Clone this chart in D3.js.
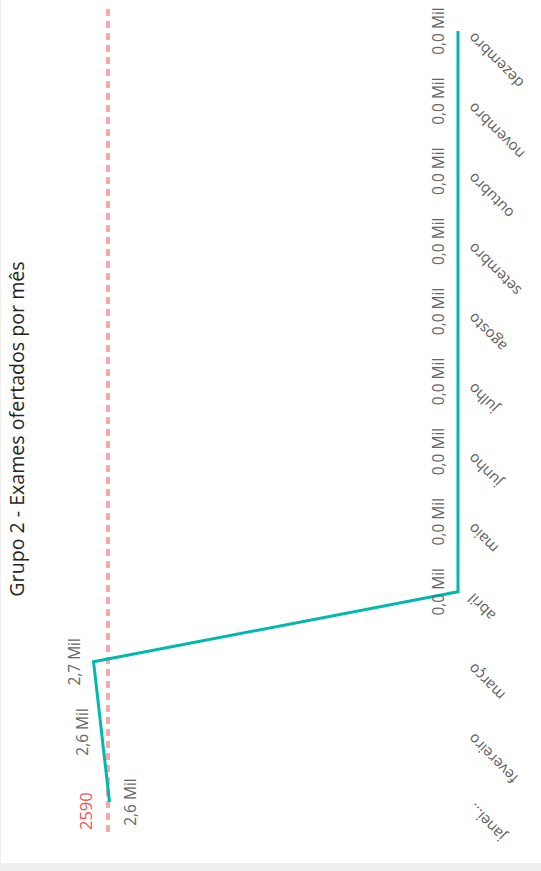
<!DOCTYPE html>
<html>
<head>
<meta charset="utf-8">
<script src="https://cdn.jsdelivr.net/npm/d3@7"></script>
<style>
  html, body { margin: 0; padding: 0; background: #efefef; }
  svg { display: block; }
  text { font-family: "Open Sans", "Noto Sans", sans-serif; }
</style>
</head>
<body>
<svg id="chart" width="541" height="871"></svg>
<script>
// ---- data ----
const title = "Grupo 2 - Exames ofertados por mês";
const categories = ["janeiro", "fevereiro", "março", "abril", "maio", "junho",
                    "julho", "agosto", "setembro", "outubro", "novembro", "dezembro"];
const values = [2579, 2638, 2697, 0, 0, 0, 0, 0, 0, 0, 0, 0];
const referenceValue = 2590;
const referenceLabel = "2590";
const valueDomain = [0, 3000];

// ---- drawing ----
const W = 541, H = 871;
const svg = d3.select("#chart");

// card
svg.append("rect").attr("x", 0).attr("y", 0).attr("width", W).attr("height", H).attr("fill", "#efefef");
svg.append("rect").attr("x", 1).attr("y", 0).attr("width", W - 1).attr("height", 863).attr("fill", "#ffffff");

// the whole visual is rotated a quarter turn counter-clockwise
const g = svg.append("g").attr("transform", `translate(0,${H}) rotate(-90)`);

const x = d3.scalePoint().domain(categories).range([69, 840]);
const y = d3.scaleLinear().domain(valueDomain).range([458, 52.6]);

// title
g.append("text")
  .attr("x", 442).attr("y", 24)
  .attr("text-anchor", "middle")
  .attr("font-size", 19.6)
  .attr("fill", "#252423")
  .text(title);

// reference (constant) line
g.append("line")
  .attr("x1", 39).attr("x2", 863)
  .attr("y1", y(referenceValue)).attr("y2", y(referenceValue))
  .attr("stroke", "#F7A9AA")
  .attr("stroke-width", 4)
  .attr("stroke-dasharray", "7,5");

g.append("text")
  .attr("x", 41).attr("y", y(referenceValue) - 21.5)
  .attr("dy", "0.35em")
  .attr("font-size", 16.5)
  .attr("fill", "#F2545B")
  .text(referenceLabel);

// x axis labels (rotated)
const fmtCat = (d, i) => i === 0 ? d.slice(0, 5) + "..." : d;
g.append("g").selectAll("text")
  .data(categories)
  .join("text")
  .attr("transform", d => `translate(${x(d) - 8},${467}) rotate(-45)`)
  .attr("text-anchor", "end")
  .attr("dy", "0.7em")
  .attr("font-size", 15)
  .attr("fill", "#605E5C")
  .text(fmtCat);

// line
const pts = categories.map((c, i) => [x(c), y(values[i])]);
g.append("path")
  .attr("d", d3.line()(pts))
  .attr("fill", "none")
  .attr("stroke", "#01B8AA")
  .attr("stroke-width", 3)
  .attr("stroke-linejoin", "miter");

// data labels
const fmtVal = v => (v / 1000).toFixed(1).replace(".", ",") + " Mil";
g.append("g").selectAll("text")
  .data(categories)
  .join("text")
  .attr("x", d => x(d))
  .attr("y", (d, i) => i === 0 ? y(values[i]) + 21 : y(values[i]) - 19)
  .attr("dy", "0.35em")
  .attr("text-anchor", "middle")
  .attr("font-size", 15.5)
  .attr("fill", "#666666")
  .text((d, i) => fmtVal(values[i]));
</script>
</body>
</html>
